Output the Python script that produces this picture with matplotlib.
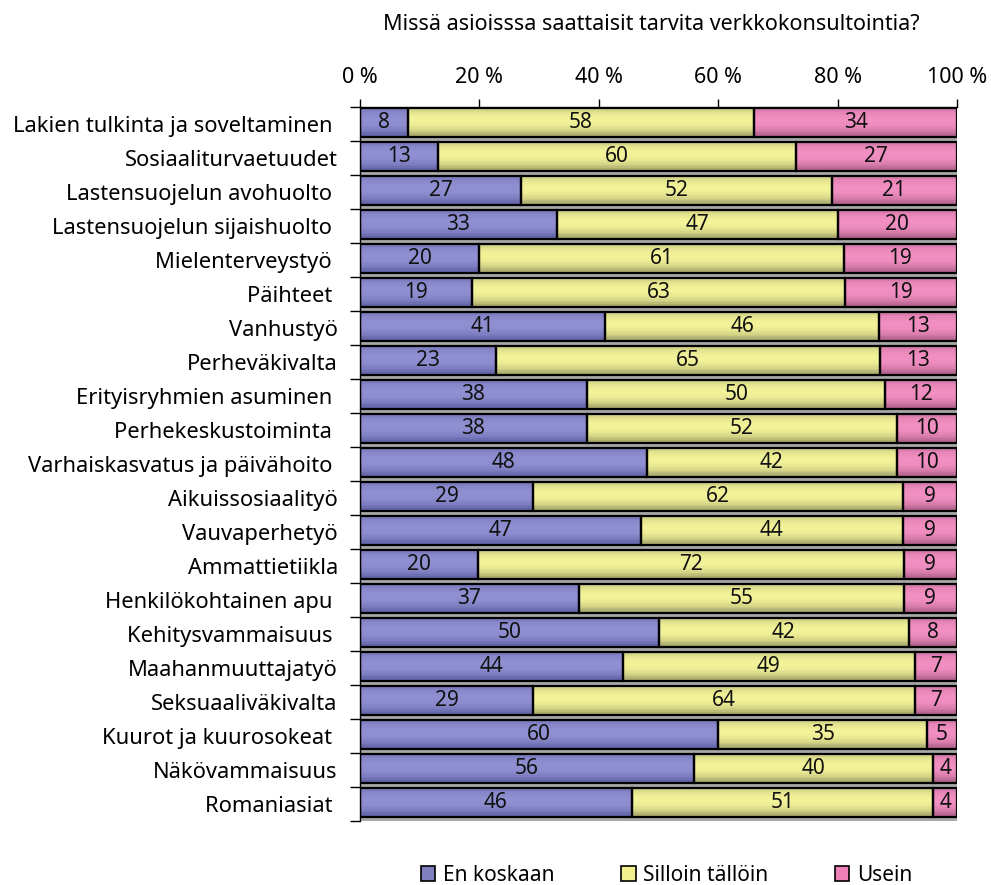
import numpy as np
import matplotlib
matplotlib.use("Agg")
import matplotlib.pyplot as plt
from matplotlib.patches import Patch
from matplotlib.ticker import FixedLocator, FuncFormatter

plt.rcParams['font.family'] = ['Noto Sans', 'DejaVu Sans']

title = "Missä asioisssa saattaisit tarvita verkkokonsultointia?"

categories = [
    "Lakien tulkinta ja soveltaminen ",
    "Sosiaaliturvaetuudet",
    "Lastensuojelun avohuolto ",
    "Lastensuojelun sijaishuolto ",
    "Mielenterveystyö ",
    "Päihteet ",
    "Vanhustyö",
    "Perheväkivalta",
    "Erityisryhmien asuminen ",
    "Perhekeskustoiminta ",
    "Varhaiskasvatus ja päivähoito ",
    "Aikuissosiaalityö",
    "Vauvaperhetyö",
    "Ammattietiikla",
    "Henkilökohtainen apu ",
    "Kehitysvammaisuus ",
    "Maahanmuuttajatyö",
    "Seksuaaliväkivalta",
    "Kuurot ja kuurosokeat ",
    "Näkövammaisuus",
    "Romaniasiat ",
]

en_koskaan = [8, 13, 27, 33, 20, 19, 41, 23, 38, 38, 48, 29, 47, 20, 37, 50, 44, 29, 60, 56, 46]
silloin_talloin = [58, 60, 52, 47, 61, 63, 46, 65, 50, 52, 42, 62, 44, 72, 55, 42, 49, 64, 35, 40, 51]
usein = [34, 27, 21, 20, 19, 19, 13, 13, 12, 10, 10, 9, 9, 9, 9, 8, 7, 7, 5, 4, 4]

series_names = ["En koskaan", "Silloin tällöin", "Usein"]
x_ticks = [0, 20, 40, 60, 80, 100]

# (light centre colour, dark edge colour) for the shaded bars
palettes = [
    ((0.56, 0.56, 0.82), (0.30, 0.30, 0.58)),
    ((0.95, 0.95, 0.60), (0.52, 0.52, 0.34)),
    ((0.95, 0.56, 0.76), (0.58, 0.30, 0.45)),
]
legend_colors = ["#8080c0", "#f0f090", "#f080b8"]

raw = np.array([en_koskaan, silloin_talloin, usein], dtype=float)
share = raw / raw.sum(axis=0) * 100.0  # 100 % stacked

fig = plt.figure(figsize=(9.91, 8.85), dpi=100)
ax = fig.add_axes([0.3633, 0.0723, 0.6024, 0.8068])

y = np.arange(len(categories))
bar_h = 0.88
yc = y - 0.045          # bars sit just under the category boundary
n_strips = 18

# grey drop shadow under each bar
ax.barh(yc + 0.15, share.sum(axis=0), height=bar_h, left=0,
        color="#a8a8a8", linewidth=0, zorder=1)

left = np.zeros(len(categories))
for s in range(3):
    light, dark = palettes[s]
    light = np.array(light)
    dark = np.array(dark)
    widths = share[s]
    # horizontal strips give the cylinder-like vertical shading
    for k in range(n_strips):
        t = (k + 0.5) / n_strips  # 0 = top of bar, 1 = bottom
        w = np.clip(1 - ((t - 0.42) / 0.58) ** 2, 0, 1) ** 0.8
        col = dark + (light - dark) * w
        off = -bar_h / 2 + (k + 0.5) * bar_h / n_strips
        ax.barh(yc + off, widths, height=bar_h / n_strips * 1.02, left=left,
                color=col, linewidth=0, zorder=2)
    ax.barh(yc, widths, height=bar_h, left=left, facecolor="none",
            edgecolor="black", linewidth=1.6, zorder=3)
    for i in range(len(categories)):
        ax.text(left[i] + widths[i] / 2, yc[i], f"{int(raw[s, i])}",
                ha="center", va="center", fontsize=15, color="#111111", zorder=4)
    left = left + widths

ax.set_xlim(0, 100)
ax.set_ylim(len(categories) - 0.5, -0.5)

ax.xaxis.tick_top()
ax.set_xticks(x_ticks)
ax.xaxis.set_major_formatter(FuncFormatter(lambda v, p: f"{int(v)} %"))
ax.tick_params(axis="x", direction="out", length=6, width=1, pad=8,
               labelsize=15.5, color="black")

ax.set_yticks(y)
ax.set_yticklabels(categories)
ax.tick_params(axis="y", which="major", length=0, pad=16, labelsize=15.8)
ax.yaxis.set_minor_locator(FixedLocator(np.arange(-0.5, len(categories), 1.0)))
ax.tick_params(axis="y", which="minor", direction="out", length=7, width=1, color="black")

for side in ["right", "bottom"]:
    ax.spines[side].set_visible(False)
ax.spines["top"].set_color("black")
ax.spines["left"].set_color("black")
ax.spines["top"].set_linewidth(1)
ax.spines["left"].set_linewidth(1)

fig.text(0.657, 0.972, title, ha="center", va="center", fontsize=15.5)

handles = [Patch(facecolor=c, edgecolor="black", linewidth=1.2) for c in legend_colors]
fig.legend(handles, series_names, loc="center", bbox_to_anchor=(0.6725, 0.011),
           ncol=3, frameon=False, fontsize=15, handlelength=0.7, handleheight=0.7,
           handletextpad=0.35, columnspacing=3.2)

fig.savefig("out.png", dpi=100)
